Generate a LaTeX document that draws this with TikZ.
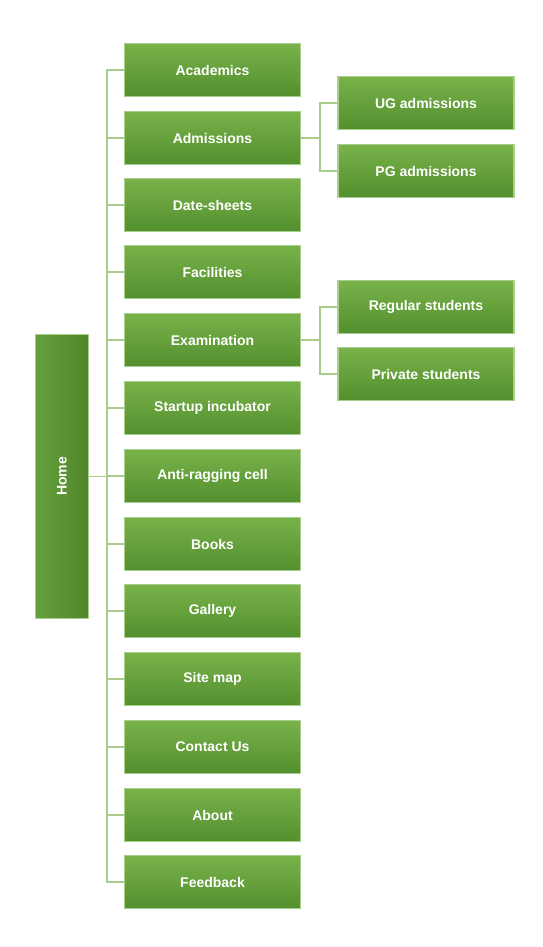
\documentclass[tikz,border=0pt]{standalone}
\usepackage{fontspec}
\setmainfont{Liberation Sans}
\begin{document}
\begin{tikzpicture}[x=1pt,y=-1pt,
  box/.style={draw=boxedge,line width=1.2pt,top color=boxtop,bottom color=boxbot,
    minimum width=176pt,minimum height=53pt,inner sep=0pt,
    text=white,font=\fontsize{14}{16}\selectfont\bfseries},
  homebox/.style={box,minimum width=53pt,minimum height=284pt,left color=hometop,right color=homebot},
  link/.style={draw=linecol,line width=1.3pt}]
\definecolor{boxtop}{HTML}{79B24A}
\definecolor{boxbot}{HTML}{528F2E}
\definecolor{hometop}{HTML}{66A03C}
\definecolor{homebot}{HTML}{4F862B}
\definecolor{boxedge}{HTML}{A8D08A}
\definecolor{linecol}{HTML}{A9CC8C}
\useasboundingbox[fill=white] (0,0) rectangle (542,947);
\node[homebox] (home) at (62,476.5) {\rotatebox{90}{Home}};
\coordinate (trunk) at (107,476.5);
\foreach \n/\t/\y in {a/Academics/70,b/Admissions/138,c/Date-sheets/205,d/Facilities/272,
  e/Examination/340,f/Startup incubator/408,g/Anti-ragging cell/476,h/Books/544,
  i/Gallery/611,j/Site map/679,k/Contact Us/747,l/About/815,m/Feedback/882}{
  \node[box] (\n) at (212.5,\y) {\t};
}
\node[box] (ug) at (426,103) {UG admissions};
\node[box] (pg) at (426,171) {PG admissions};
\node[box] (rs) at (426,307) {Regular students};
\node[box] (ps) at (426,374) {Private students};
\draw[link] (home.east) -- (trunk);
\foreach \n in {a,b,c,d,e,f,g,h,i,j,k,l,m}{
  \draw[link] (trunk) |- (\n.west);
}
\coordinate (bj) at (320,138);
\coordinate (ej) at (320,340);
\draw[link] (b.east) -- (bj);
\draw[link] (bj) |- (ug.west);
\draw[link] (bj) |- (pg.west);
\draw[link] (e.east) -- (ej);
\draw[link] (ej) |- (rs.west);
\draw[link] (ej) |- (ps.west);
\end{tikzpicture}
\end{document}
